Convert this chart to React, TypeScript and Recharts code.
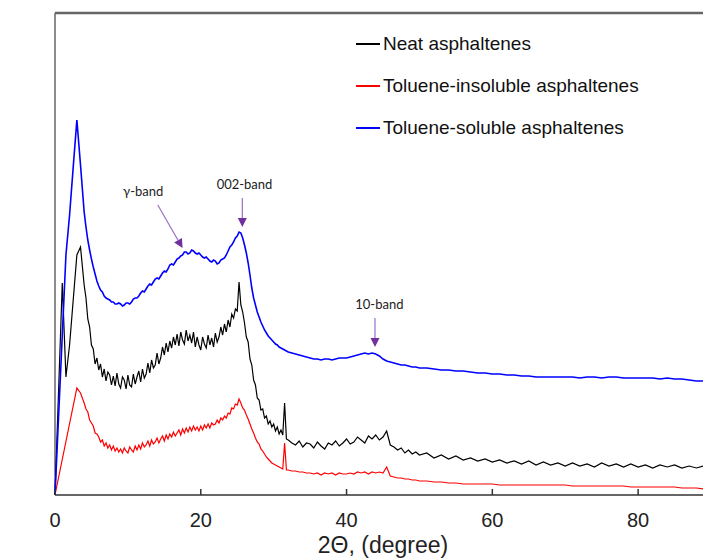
import React from "react"
import { LineChart, Line, XAxis, YAxis, ReferenceLine, ReferenceDot, Legend, Label } from "recharts"

// 2θ grid (degrees): finer sampling through the noisy low-angle region
const twoTheta = [
  0, 0.5, 1, 1.5, 2, 2.5, 3, 3.5,
  4, 4.25, 4.5, 4.75, 5, 5.25, 5.5, 5.75,
  6, 6.25, 6.5, 6.75, 7, 7.25, 7.5, 7.75,
  8, 8.25, 8.5, 8.75, 9, 9.25, 9.5, 9.75,
  10, 10.25, 10.5, 10.75, 11, 11.25, 11.5, 11.75,
  12, 12.25, 12.5, 12.75, 13, 13.25, 13.5, 13.75,
  14, 14.25, 14.5, 14.75, 15, 15.25, 15.5, 15.75,
  16, 16.25, 16.5, 16.75, 17, 17.25, 17.5, 17.75,
  18, 18.25, 18.5, 18.75, 19, 19.25, 19.5, 19.75,
  20, 20.25, 20.5, 20.75, 21, 21.25, 21.5, 21.75,
  22, 22.25, 22.5, 22.75, 23, 23.25, 23.5, 23.75,
  24, 24.25, 24.5, 24.75, 25, 25.25, 25.5, 25.75,
  26, 26.25, 26.5, 26.75, 27, 27.25, 27.5, 27.75,
  28, 28.25, 28.5, 28.75, 29, 29.25, 29.5, 29.75,
  30, 30.25, 30.5, 30.75, 31, 31.25, 31.5, 31.75,
  32, 32.5, 33, 33.5, 34, 34.5, 35, 35.5, 36, 36.5,
  37, 37.5, 38, 38.5, 39, 39.5, 40, 40.5, 41, 41.5,
  42, 42.5, 43, 43.5, 44, 44.5, 45, 45.5, 46, 46.5,
  47, 47.5, 48, 48.5, 49, 49.5,
  50, 51, 52, 53, 54, 55, 56, 57, 58, 59,
  60, 61, 62, 63, 64, 65, 66, 67, 68, 69,
  70, 71, 72, 73, 74, 75, 76, 77, 78, 79,
  80, 81, 82, 83, 84, 85, 86, 87, 88, 89,
  90,
]

const neat = [
  0, null, 212, 118, 150, 195, 240, 248,
  210, 197, 176, 168, 150, 146, 131, 137,
  125, 131, 118, 126, 114, 123, 120, 110,
  119, 109, 122, 111, 107, 118, 115, 106,
  120, 110, 108, 121, 111, 118, 124, 113,
  126, 117, 121, 132, 122, 135, 127, 130,
  142, 131, 137, 148, 140, 152, 143, 154,
  147, 158, 150, 161, 149, 163, 155, 151,
  165, 154, 160, 152, 163, 148, 158, 150,
  145, 158, 151, 147, 160, 150, 157, 148,
  162, 153, 158, 168, 160, 171, 163, 175,
  168, 181, 177, 186, 184, 213, 190, 183,
  172, 158, 153, 136, 130, 115, 110, 97,
  95, 85, 86, 77, 79, 71, 74, 68,
  71, 64, 68, 61, 65, 60, 92, 56,
  55, 52, 50, 54, 48, 52, 51, 47, 53, 49,
  46, 52, 50, 54, 49, 52, 56, 51, 53, 58,
  55, 52, 59, 56, 60, 55, 58, 64, 50, 48,
  45, 47, 42, 45, 41, 43,
  40, 42, 37, 40, 36, 39, 35, 37, 34, 36,
  33, 35, 32, 34, 31, 34, 30, 33, 30, 32,
  29, 32, 29, 31, 28, 32, 29, 31, 28, 31,
  28, 30, 27, 30, 28, 30, 27, 29, 27, 29,
  27,
]

const insoluble = [
  0, null, null, null, null, null, 107, 102,
  92, 86, 83, 75, 72, 69, 62, 61,
  58, 53, 55, 49, 52, 47, 50, 45,
  49, 44, 47, 43, 46, 42, 47, 44,
  42, 48, 45, 43, 49, 45, 50, 46,
  52, 48, 50, 54, 49, 55, 51, 53,
  57, 52, 56, 59, 54, 60, 56, 61,
  58, 63, 59, 62, 65, 60, 66, 62,
  67, 63, 68, 64, 69, 65, 68, 64,
  69, 65, 70, 67, 71, 67, 72, 70,
  71, 75, 72, 77, 75, 79, 77, 82,
  81, 87, 86, 91, 90, 96, 92, 87,
  85, 80, 76, 71, 66, 62, 57, 53,
  51, 46, 44, 41, 38, 36, 34, 32,
  31, 30, 29, 28, 27, 26, 52, 25,
  25, 24, 24, 23, 23, 22, 22, 21, 22, 20,
  22, 21, 22, 20, 22, 21, 21, 22, 21, 23,
  22, 23, 21, 23, 22, 23, 22, 28, 19, 18,
  17, 17, 16, 16, 15, 15,
  14, 14, 13, 13, 12, 12, 11, 11, 11, 11,
  11, 10, 10, 10, 10, 10, 10, 10, 10, 10,
  10, 9, 9, 9, 9, 9, 9, 9, 9, 8,
  8, 8, 8, 8, 8, 8, 7, 7, 7, 6,
  6,
]

const soluble = [
  0, null, null, 240, 280, 328, 375, 330,
  283, 268, 255, 245, 236, 228, 221, 214,
  209, 205, 203, 199, 197, 196, 195, 193,
  193, 191, 191, 192, 191, 189, 190, 192,
  192, 191, 193, 196, 197, 197, 199, 202,
  204, 203, 206, 209, 211, 210, 213, 216,
  217, 216, 219, 222, 224, 223, 226, 230,
  231, 230, 233, 236, 237, 239, 240, 243,
  243, 241, 242, 245, 244, 242, 241, 242,
  240, 238, 237, 238, 236, 234, 233, 235,
  234, 231, 232, 235, 236, 237, 240, 244,
  248, 250, 253, 257, 259, 263, 262, 257,
  250, 242, 232, 220, 207, 197, 190, 183,
  178, 173, 169, 165, 162, 159, 157, 155,
  153, 151, 150, 148, 147, 146, 145, 144,
  143, 142, 141, 140, 139, 138, 137, 136, 136, 135,
  136, 136, 135, 136, 137, 137, 137, 138, 139, 140,
  141, 142, 141, 142, 141, 139, 136, 134, 133, 132,
  131, 130, 130, 129, 128, 128,
  127, 127, 126, 125, 125, 124, 124, 123, 122, 122,
  121, 121, 120, 120, 119, 119, 118, 118, 118, 118,
  118, 118, 117, 118, 118, 117, 118, 118, 117, 117,
  117, 117, 117, 116, 117, 116, 116, 115, 114, 114,
  113,
]

const xTicks = [0, 20, 40, 60, 80]

// band annotations (data coordinates)
const bandNames = ["γ-band", "002-band", "10-band"]
const bandLabelTheta = [12.1, 26.0, 44.5]
const bandLabelI = [304, 311, 191]
const arrowFromTheta = [14.1, 25.7, 43.9]
const arrowFromI = [290, 297, 177]
const arrowToTheta = [17.5, 25.7, 43.9]
const arrowToI = [247, 268, 148]

const data = twoTheta.map((t, i) => ({
  t,
  neat: neat[i],
  insoluble: insoluble[i],
  soluble: soluble[i],
}))

const FONT = "'Liberation Sans', Arial, sans-serif"

const XTick = ({ x, y, payload }: any) => (
  <g>
    <line x1={x} x2={x} y1={y} y2={y - 6} stroke="#333" strokeWidth={1.5} />
    <text x={x} y={y + 32} textAnchor="middle" fontSize={20} fontFamily={FONT} fill="#222">
      {payload.value}
    </text>
  </g>
)

const YTitle = ({ viewBox }: any) => {
  const cx = viewBox.x - 33
  const cy = viewBox.y + viewBox.height / 2
  return (
    <text x={cx} y={cy} transform={`rotate(-90 ${cx} ${cy})`} textAnchor="middle" dominantBaseline="central"
      fontSize={23} fontFamily={FONT} fill="#222">
      Intensity
    </text>
  )
}

const XTitle = ({ viewBox }: any) => (
  <text x={viewBox.x + viewBox.width / 2} y={viewBox.y + 58} textAnchor="middle" fontSize={23} fontFamily={FONT} fill="#222">
    2Θ, (degree)
  </text>
)

const Arrow = (p: any) => {
  const { x1, y1, x2, y2 } = p
  const ang = Math.atan2(y2 - y1, x2 - x1)
  const len = 9
  const w = 4.5
  const bx = x2 - len * Math.cos(ang)
  const by = y2 - len * Math.sin(ang)
  const px = -Math.sin(ang) * w
  const py = Math.cos(ang) * w
  return (
    <g>
      <line x1={x1} y1={y1} x2={bx} y2={by} stroke="#9b6fc7" strokeWidth={1.2} />
      <polygon points={`${x2},${y2} ${bx + px},${by + py} ${bx - px},${by - py}`} fill="#7030A0" />
    </g>
  )
}

const legendItems = [
  { key: "neat", label: "Neat asphaltenes", color: "#000000" },
  { key: "insoluble", label: "Toluene-insoluble asphaltenes", color: "#ff0000" },
  { key: "soluble", label: "Toluene-soluble asphaltenes", color: "#0000ff" },
]

const LegendBox = () => (
  <div style={{ fontFamily: FONT, fontSize: 19, color: "#111" }}>
    {legendItems.map((it) => (
      <div key={it.key} style={{ display: "flex", alignItems: "center", height: 42 }}>
        <span style={{ display: "inline-block", width: 24, height: 2, background: it.color, marginRight: 3 }} />
        <span>{it.label}</span>
      </div>
    ))}
  </div>
)

export default function App() {
  return (
    <div style={{ position: "absolute", left: 0, top: 0, width: 703, height: 559, overflow: "hidden", background: "#fff" }}>
      <LineChart width={711} height={559} data={data} margin={{ top: 13, right: 0, bottom: 0, left: 55 }}>
        <XAxis
          dataKey="t"
          type="number"
          domain={[0, 90]}
          ticks={xTicks}
          tickSize={0}
          tickMargin={0}
          tickLine={false}
          tick={<XTick />}
          height={64}
          axisLine={{ stroke: "#333", strokeWidth: 1.5 }}
          label={<Label content={<XTitle />} />}
        />
        <YAxis
          type="number"
          domain={[0, 482]}
          width={0}
          tick={false}
          tickLine={false}
          axisLine={{ stroke: "#666", strokeWidth: 1.5 }}
          label={<Label content={<YTitle />} />}
        />
        <ReferenceLine y={482} stroke="#666" strokeWidth={2.5} />
        <ReferenceLine x={0} stroke="#666" strokeWidth={1.5} />
        <Legend layout="vertical" align="center" verticalAlign="middle" content={<LegendBox />}
          wrapperStyle={{ left: 356, top: 23, width: "auto", height: "auto" }} />
        <Line type="linear" dataKey="insoluble" name="Toluene-insoluble asphaltenes" stroke="#ff0000" strokeWidth={1.2}
          dot={false} connectNulls isAnimationActive={false} />
        <Line type="linear" dataKey="neat" name="Neat asphaltenes" stroke="#000000" strokeWidth={1.2}
          dot={false} connectNulls isAnimationActive={false} />
        <Line type="linear" dataKey="soluble" name="Toluene-soluble asphaltenes" stroke="#0000ff" strokeWidth={1.6}
          dot={false} connectNulls isAnimationActive={false} />
        {bandNames.map((name, i) => (
          <ReferenceLine key={"a" + i}
            segment={[{ x: arrowFromTheta[i], y: arrowFromI[i] }, { x: arrowToTheta[i], y: arrowToI[i] }]}
            shape={<Arrow />} />
        ))}
        {bandNames.map((name, i) => (
          <ReferenceDot key={"l" + i} x={bandLabelTheta[i]} y={bandLabelI[i]} r={0}
            shape={(p: any) => (
              <text x={p.cx} y={p.cy} textAnchor="middle" dominantBaseline="central" fontSize={13}
                fontFamily="Lato, 'Open Sans', sans-serif" fill="#222">
                {name}
              </text>
            )} />
        ))}
      </LineChart>
    </div>
  )
}
